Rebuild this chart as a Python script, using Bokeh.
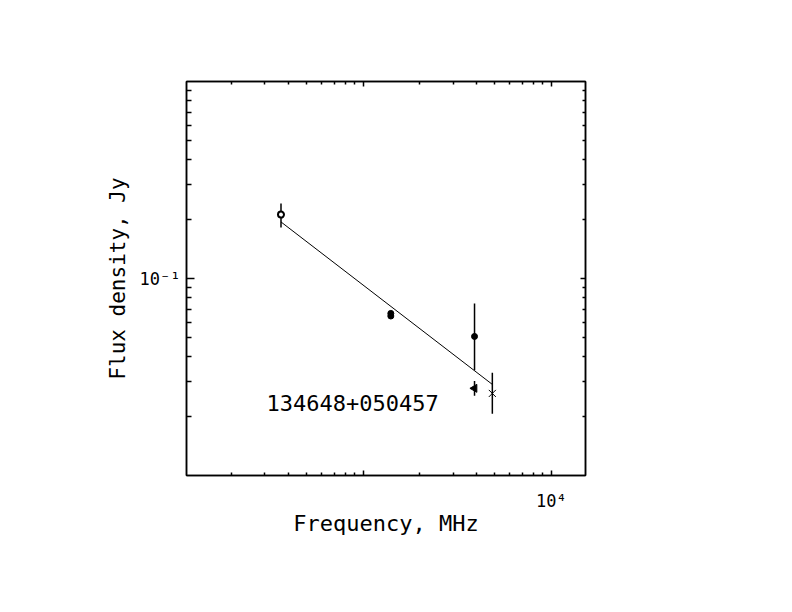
import numpy as np
from bokeh.plotting import figure
from bokeh.models import LogAxis, FixedTicker, Range1d
from bokeh.core.properties import value
from bokeh.embed import file_html
from bokeh.resources import INLINE

# measured points: frequency [MHz], flux [Jy], error bar limits
freq = [365, 1400, 1400, 3900, 4850]
flux = [0.211, 0.0665, 0.0645, 0.0508, 0.0261]
flux_lo = [0.1815, 0.0655, 0.0635, 0.0342, 0.0206]
flux_hi = [0.2405, 0.0675, 0.0655, 0.0746, 0.0332]
marker = ["open", "filled", "filled", "filled", "x"]

# upper limit style point (left triangle)
lim_freq = [3900]
lim_flux = [0.0277]
lim_lo = [0.0254]
lim_hi = [0.0302]

# fitted spectrum
fit_freq = [365, 4850]
fit_flux = [0.1937, 0.0290]

source_name = "134648+050457"
name_x = 306
name_y = 0.0234

x_major = [1000, 10000]
x_minor = [200, 300, 400, 500, 600, 700, 800, 900,
           2000, 3000, 4000, 5000, 6000, 7000, 8000, 9000]
y_major = [0.1]
y_minor = [0.02, 0.03, 0.04, 0.05, 0.06, 0.07, 0.08, 0.09,
           0.2, 0.3, 0.4, 0.5, 0.6, 0.7, 0.8, 0.9]

FONT = "DejaVu Sans Mono"

p = figure(width=776, height=596, x_axis_type="log", y_axis_type="log",
           x_range=Range1d(114.8, 15170), y_range=Range1d(0.01, 1.0),
           output_backend="svg", toolbar_location=None,
           min_border_left=186, min_border_right=191,
           min_border_top=81, min_border_bottom=121)
p.xgrid.visible = False
p.ygrid.visible = False
p.outline_line_color = "black"
p.outline_line_width = 1.5

def style(ax, major, minor, tin, tmin):
    ax.ticker = FixedTicker(ticks=major, minor_ticks=minor)
    ax.major_tick_out = 0
    ax.minor_tick_out = 0
    ax.major_tick_in = tin
    ax.minor_tick_in = tmin
    ax.axis_line_color = "black"
    ax.axis_line_width = 1.5
    ax.major_tick_line_width = 1.5
    ax.minor_tick_line_width = 1.5
    ax.major_tick_line_color = "black"
    ax.minor_tick_line_color = "black"
    ax.major_label_text_font = FONT
    ax.major_label_text_font_size = "17px"
    ax.major_label_text_color = "black"
    ax.axis_label_text_font = FONT
    ax.axis_label_text_font_size = "21px"
    ax.axis_label_text_font_style = "normal"
    ax.axis_label_text_color = "black"

xa = p.xaxis[0]
style(xa, x_major, x_minor, 5, 3)
xa.major_label_overrides = {1000: " ", 10000: "10\u2074"}
xa.major_label_standoff = 15
xa.axis_label = "Frequency, MHz"
xa.axis_label_text_font_size = "22px"
xa.axis_label_standoff = -3

ya = p.yaxis[0]
style(ya, y_major, y_minor, 8, 5)
ya.major_label_overrides = {0.1: "10\u207b\u00b9"}
ya.major_label_standoff = 6
ya.axis_label = "Flux density, Jy"
ya.axis_label_standoff = 7

top = LogAxis()
style(top, x_major, x_minor, 5, 3)
top.major_label_overrides = {1000: " ", 10000: " "}
p.add_layout(top, "above")
right = LogAxis()
style(right, y_major, y_minor, 5, 3)
right.major_label_overrides = {0.1: " "}
p.add_layout(right, "right")

# fit line
p.line(fit_freq, fit_flux, line_color="black", line_width=1)

# error bars
p.segment(x0=freq, y0=flux_lo, x1=freq, y1=flux_hi, line_color="black", line_width=1.5)
p.segment(x0=lim_freq, y0=lim_lo, x1=lim_freq, y1=lim_hi, line_color="black", line_width=1.5)

# markers
fx = [f for f, m in zip(freq, marker) if m == "filled"]
fy = [s for s, m in zip(flux, marker) if m == "filled"]
ox = [f for f, m in zip(freq, marker) if m == "open"]
oy = [s for s, m in zip(flux, marker) if m == "open"]
xx = [f for f, m in zip(freq, marker) if m == "x"]
xy = [s for s, m in zip(flux, marker) if m == "x"]
p.scatter(fx, fy, marker="circle", size=6, fill_color="black", line_color="black")
p.scatter(ox, oy, marker="circle", size=6, fill_color="white", line_color="black", line_width=2)
p.scatter(xx, xy, marker="x", size=10, line_color="black", line_width=1)
p.scatter(lim_freq, lim_flux, marker="triangle", angle=np.pi / 2, size=8,
          fill_color="black", line_color="black")

p.text(x=[name_x], y=[name_y], text=[source_name], text_font=value(FONT),
       text_font_size="22px", text_baseline="middle", text_align="left",
       text_color="black")

open("out.html", "w").write(file_html(p, INLINE))
